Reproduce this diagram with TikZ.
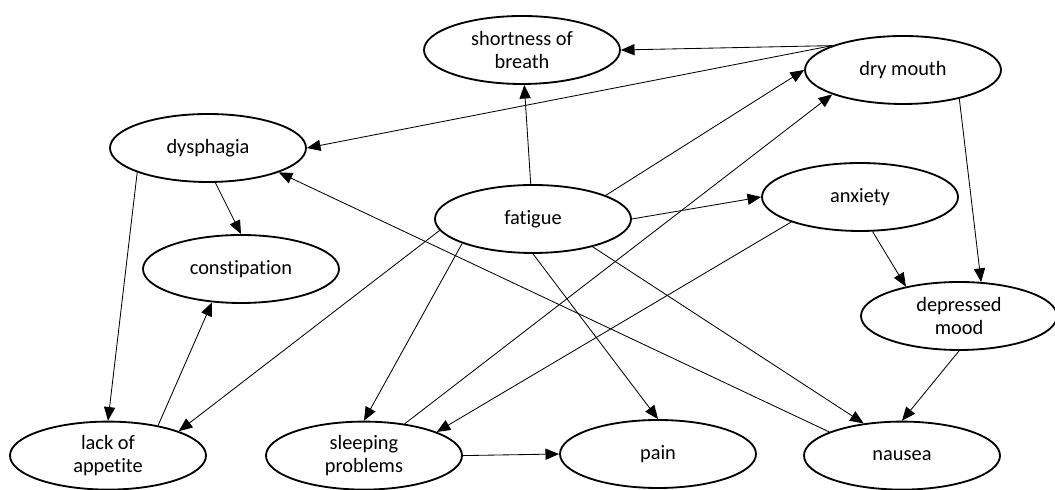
\documentclass[tikz,border=0pt]{standalone}
\usepackage{fontspec}
\setmainfont{Carlito}[Ligatures=NoCommon]
\usetikzlibrary{arrows.meta,shapes.geometric}

\tikzset{
  symptom/.style={ellipse, draw, line width=1.3pt, minimum width=4.9cm,
    minimum height=1.7cm, inner sep=0pt, align=center,
    font=\fontsize{14.5}{16}\selectfont},
  link/.style={->, line width=0.6pt}
}

\begin{document}
\begin{tikzpicture}[>={Triangle[length=3.4mm,width=2.8mm]}]
  % Frame
  \useasboundingbox (0,0) rectangle (26.375,12.25);

  % Symptoms
  \node[symptom] (breath)   at (13.05,11.0)  {shortness of\\breath};
  \node[symptom] (drymouth) at (22.575,10.5) {dry mouth};
  \node[symptom] (dysph)    at (5.2,8.55)    {dysphagia};
  \node[symptom] (fatigue)  at (13.325,6.775) {fatigue};
  \node[symptom] (anxiety)  at (21.5,7.325)  {anxiety};
  \node[symptom] (constip)  at (6.025,5.525) {constipation};
  \node[symptom] (depress)  at (23.975,4.35) {depressed\\mood};
  \node[symptom] (appetite) at (2.7,0.86)    {lack of\\appetite};
  \node[symptom] (sleep)    at (9.1,0.86)    {sleeping\\problems};
  \node[symptom] (pain)     at (16.45,0.9)   {pain};
  \node[symptom] (nausea)   at (22.55,0.86)  {nausea};

  % Links between symptoms
  \foreach \a/\b in {fatigue/breath, drymouth.161/breath.east,
      drymouth.161/dysph.east, fatigue.18/drymouth.west,
      sleep.38/drymouth.199, fatigue.east/anxiety.west,
      anxiety.290/depress.151, drymouth.333/depress.57,
      depress.south/nausea.north, fatigue.335/nausea.140,
      nausea.162/dysph.341, fatigue.187/appetite.19,
      fatigue.199/sleep.north, fatigue.south/pain.north,
      anxiety.200/sleep.18, dysph.282/constip.north,
      dysph.199/appetite.north, appetite.31/constip.229,
      sleep.east/pain.west} {
    \draw[link] (\a) -- (\b);
  }
\end{tikzpicture}
\end{document}
